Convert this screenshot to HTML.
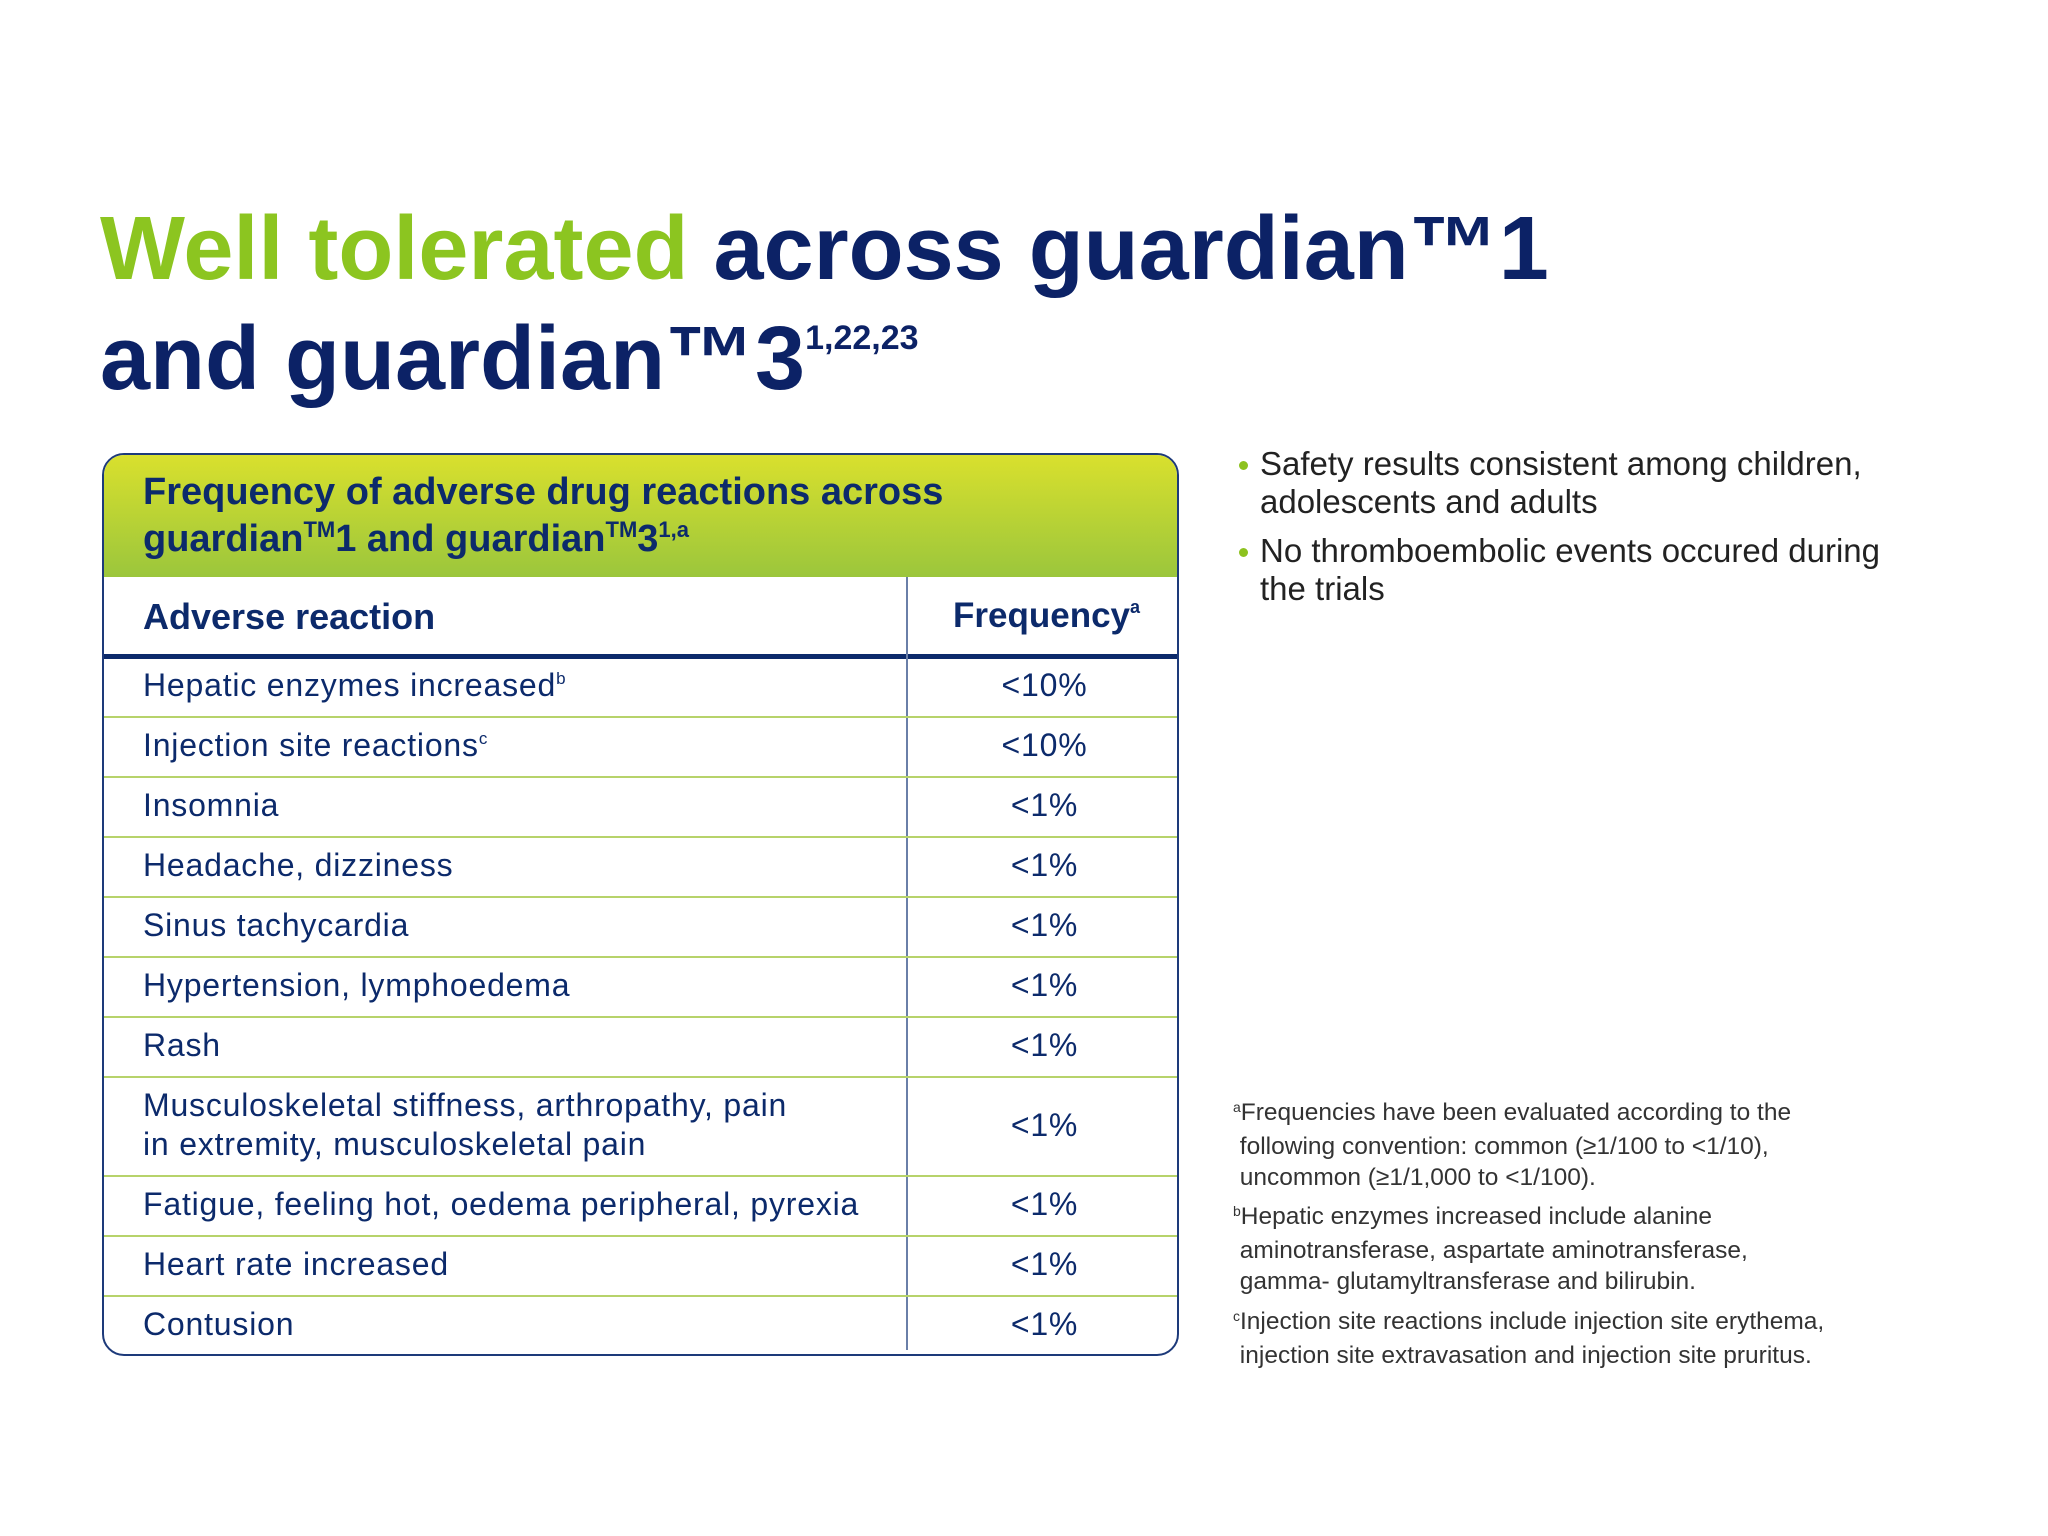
<!DOCTYPE html>
<html><head><meta charset="utf-8"><style>
body{margin:0;width:2048px;height:1536px;background:#fff;position:relative;overflow:hidden;font-family:"Liberation Sans",sans-serif;color:#0c2a6b}
.abs{position:absolute;white-space:nowrap}
.t{font-weight:bold;font-size:90px;line-height:1;color:#0c2266}
sup{font-size:55%;vertical-align:0;position:relative;top:-0.75em}
#table{position:absolute;left:102px;top:453px;width:1077px;height:903px;border:2px solid #1d3a7a;border-radius:22px;overflow:hidden;box-sizing:border-box}
#hdr{position:absolute;left:0;top:0;right:0;height:122px;background:linear-gradient(#d9e02d,#9bc63c)}
.cell{position:absolute;font-size:32px;letter-spacing:0.8px;color:#0c2a6b;white-space:nowrap}
.line{position:absolute;left:0;right:0;height:2px;background:#b7d36b}
.fn{font-size:24.5px;color:#333;line-height:31px}
.bul{font-size:33px;color:#222;line-height:38px}
.dot{position:absolute;width:9px;height:9px;border-radius:50%;background:#8dc21f}
</style></head><body>
<div class="abs t" style="left:100px;top:204px"><span style="color:#8cc520">Well tolerated</span> across guardian™1</div>
<div class="abs t" style="left:100px;top:314px">and guardian™3<sup style="font-size:34px;top:-40px">1,22,23</sup></div>

<div id="table">
  <div id="hdr">
    <div class="cell" style="left:39px;top:14px;font-size:38px;letter-spacing:0;font-weight:bold;line-height:47px">Frequency of adverse drug reactions across<br>guardian<sup style="font-size:22px;top:-14px">TM</sup>1 and guardian<sup style="font-size:22px;top:-14px">TM</sup>3<sup style="font-size:22px;top:-14px">1,a</sup></div>
  </div>
  <div class="cell" style="left:39px;top:141px;font-size:36px;letter-spacing:0;font-weight:bold">Adverse reaction</div>
  <div class="cell" style="left:849px;top:141px;font-size:35px;letter-spacing:0;font-weight:bold">Frequency<sup style="font-size:18px;top:-14px">a</sup></div>
  <div style="position:absolute;left:0;right:0;top:199px;height:5px;background:#0c2a6b"></div>
  <div style="position:absolute;left:802px;top:122px;bottom:4px;width:2px;background:#6a7fa8"></div>
  <div id="rows"></div>
</div>

<div class="dot" style="left:1239px;top:461px"></div>
<div class="abs bul" style="left:1260px;top:445px">Safety results consistent among children,<br>adolescents and adults</div>
<div class="dot" style="left:1239px;top:548px"></div>
<div class="abs bul" style="left:1260px;top:532px">No thromboembolic events occured during<br>the trials</div>

<div class="abs fn" style="left:1233px;top:1097px"><sup style="font-size:14px;top:-8px">a</sup>Frequencies have been evaluated according to the<br>&nbsp;following convention: common (≥1/100 to &lt;1/10),<br>&nbsp;uncommon (≥1/1,000 to &lt;1/100).</div>
<div class="abs fn" style="left:1233px;top:1201px"><sup style="font-size:14px;top:-8px">b</sup>Hepatic enzymes increased include alanine<br>&nbsp;aminotransferase, aspartate aminotransferase,<br>&nbsp;gamma- glutamyltransferase and bilirubin.</div>
<div class="abs fn" style="left:1233px;top:1306px"><sup style="font-size:14px;top:-8px">c</sup>Injection site reactions include injection site erythema,<br>&nbsp;injection site extravasation and injection site pruritus.</div>

<script>
const reactions=["Hepatic enzymes increased<sup style='font-size:17px;top:-12px'>b</sup>","Injection site reactions<sup style='font-size:17px;top:-12px'>c</sup>","Insomnia","Headache, dizziness","Sinus tachycardia","Hypertension, lymphoedema","Rash","Musculoskeletal stiffness, arthropathy, pain<br>in extremity, musculoskeletal pain","Fatigue, feeling hot, oedema peripheral, pyrexia","Heart rate increased","Contusion"];
const frequencies=["<10%","<10%","<1%","<1%","<1%","<1%","<1%","<1%","<1%","<1%","<1%"];
const lineCounts=[1,1,1,1,1,1,1,2,1,1,1];
const rowsEl=document.getElementById('rows');
let y=202;const unit=60,extra=39;
reactions.forEach((r,i)=>{
  const h=unit+(lineCounts[i]-1)*extra;
  const a=document.createElement('div');a.className='cell';
  
  
  a.style.left='39px';a.style.lineHeight='39px';a.style.top=(y+h/2-lineCounts[i]*39/2-2)+'px';a.innerHTML=r;rowsEl.appendChild(a);
  const f=document.createElement('div');f.className='cell';
  
  
  f.style.left='803px';f.style.width='275px';f.style.textAlign='center';f.style.lineHeight='39px';f.style.top=(y+h/2-21)+'px';f.textContent=frequencies[i];rowsEl.appendChild(f);
  y+=h;
  if(i<reactions.length-1){const l=document.createElement('div');l.className='line';
  
  
  l.style.top=(y-1)+'px';rowsEl.appendChild(l);}
});
</script>
</body></html>
